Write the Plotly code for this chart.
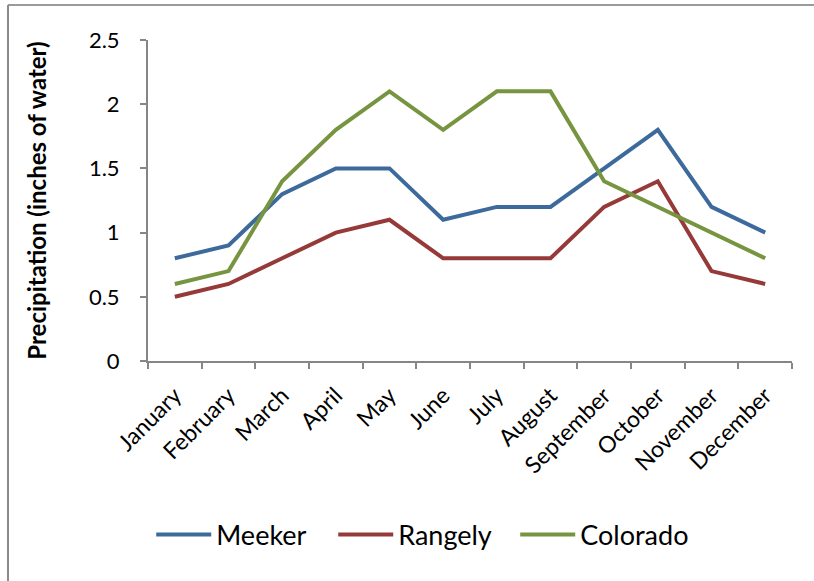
import plotly.graph_objects as go

months = ["January", "February", "March", "April", "May", "June", "July",
          "August", "September", "October", "November", "December"]
meeker = [0.8, 0.9, 1.3, 1.5, 1.5, 1.1, 1.2, 1.2, 1.5, 1.8, 1.2, 1.0]
rangely = [0.5, 0.6, 0.8, 1.0, 1.1, 0.8, 0.8, 0.8, 1.2, 1.4, 0.7, 0.6]
colorado = [0.6, 0.7, 1.4, 1.8, 2.1, 1.8, 2.1, 2.1, 1.4, 1.2, 1.0, 0.8]
y_ticks = [0, 0.5, 1, 1.5, 2, 2.5]
y_ticklabels = ["0", "0.5", "1", "1.5", "2", "2.5"]

FONT = "Lato, 'Noto Sans', sans-serif"
AXIS = "#868686"

fig = go.Figure()
for name, vals, col in [("Meeker", meeker, "#3D6A9C"),
                        ("Rangely", rangely, "#953A38"),
                        ("Colorado", colorado, "#779440")]:
    fig.add_trace(go.Scatter(x=months, y=vals, name=name, mode="lines",
                             line=dict(color=col, width=4)))

fig.update_layout(
    width=814, height=581,
    margin=dict(l=148, r=22, t=40, b=220, autoexpand=False),
    paper_bgcolor="white", plot_bgcolor="white",
    font=dict(family=FONT, color="black"),
    showlegend=True,
    legend=dict(orientation="h", x=0.005, xanchor="left", y=-0.542, yanchor="middle",
                font=dict(size=27, family=FONT), entrywidth=112, entrywidthmode="pixels",
                itemwidth=55, traceorder="normal"),
    xaxis=dict(type="category", range=[-0.5, len(months) - 0.5],
               showline=True, linecolor=AXIS, linewidth=2,
               ticks="outside", tickson="boundaries", ticklen=6, tickcolor=AXIS, tickwidth=2,
               tickangle=-45, tickfont=dict(size=23), showgrid=False, zeroline=False,
               ticklabelstandoff=10, automargin=False),
    yaxis=dict(range=[0, 2.5], tickvals=y_ticks, ticktext=y_ticklabels,
               showline=True, linecolor=AXIS, linewidth=2,
               ticks="outside", ticklen=6, tickcolor=AXIS, tickwidth=2,
               tickfont=dict(size=22), showgrid=False, zeroline=False,
               ticklabelstandoff=16, automargin=False,
               title=dict(text="<b>Precipitation (inches of water)</b>",
                          font=dict(size=24), standoff=35)),
)

# chart frame (top and left edges only, as in the reference)
fig.add_shape(type="line", xref="paper", yref="paper",
              x0=-0.2174, x1=1.04, y0=1.109, y1=1.109,
              line=dict(color="#9A9A9A", width=2))
fig.add_shape(type="line", xref="paper", yref="paper",
              x0=-0.2174, x1=-0.2174, y0=1.109, y1=-0.70,
              line=dict(color="#8A8A8A", width=2))

fig.write_html("out.html", config={"displayModeBar": False},
               post_script="document.body.style.margin='0';")
